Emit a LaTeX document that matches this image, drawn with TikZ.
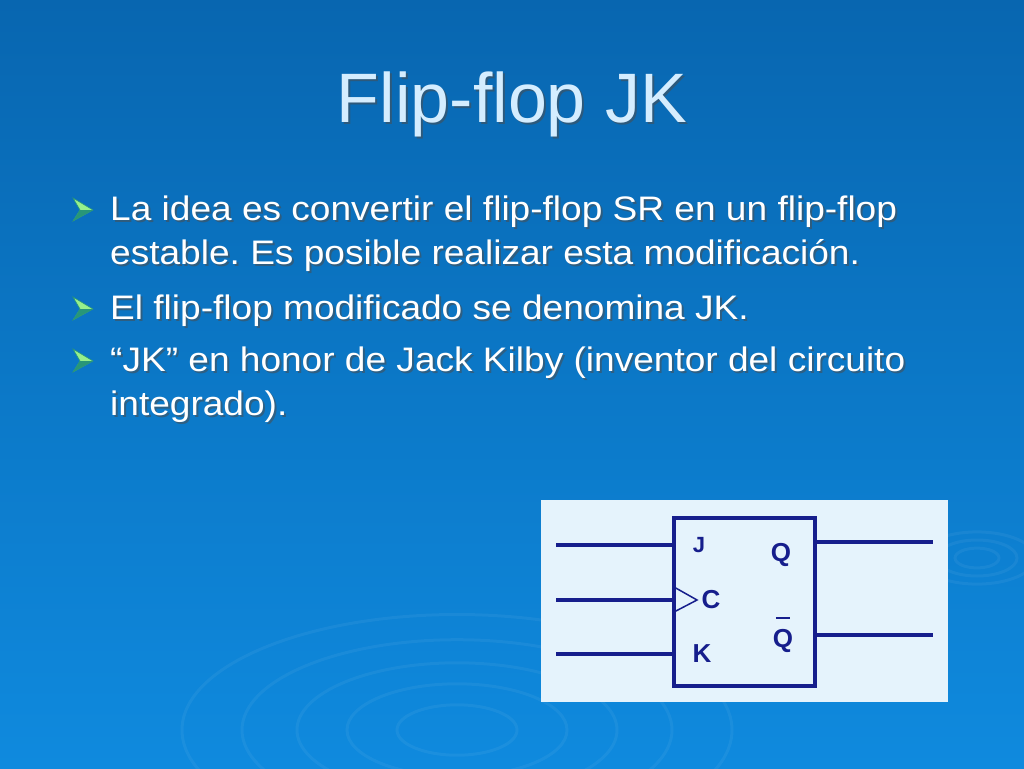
\documentclass[tikz,border=0pt]{standalone}
\usepackage{fontspec}
\setmainfont{Liberation Sans}
\newfontfamily\bodyfont[FakeStretch=1.09]{Liberation Sans}
\usetikzlibrary{positioning,calc}
\frenchspacing

\definecolor{slidetop}{RGB}{8,102,176}
\definecolor{slidebot}{RGB}{15,138,222}
\definecolor{titleblue}{RGB}{212,237,255}
\definecolor{panelblue}{RGB}{229,243,252}
\definecolor{wireblue}{RGB}{22,30,140}
\definecolor{bulletlight}{RGB}{150,240,140}
\definecolor{bulletdark}{RGB}{40,150,120}

% text with a soft drop shadow
\newcommand{\shadowtext}[5]{%
  \node[#4, text=black!70, opacity=0.55] at ($(#2,#3)+(2,2)$) {#5};
  \node[#4] (#1) at (#2,#3) {#5};}

\begin{document}
\begin{tikzpicture}[x=1pt,y=-1pt]
\tikzstyle{title}=[anchor=base, inner sep=0pt, text=titleblue, font=\fontsize{70}{80}\selectfont]
\tikzstyle{body}=[anchor=base west, inner sep=0pt, text=white, font=\bodyfont\fontsize{34}{44}\selectfont]
\tikzstyle{ripple}=[white, opacity=0.05, line width=3pt]
\tikzstyle{wire}=[draw=wireblue, line width=4pt]
\tikzstyle{pin}=[anchor=base, inner sep=0pt, text=wireblue, font=\bfseries\fontsize{26}{30}\selectfont]

\useasboundingbox (0,0) rectangle (1024,768);
\shade[top color=slidetop, bottom color=slidebot] (0,0) rectangle (1024,768);

% ripples
\foreach \r in {60,110,160,215,275}
  \draw[ripple] (457,730) ellipse [x radius=\r, y radius=0.42*\r];
\foreach \r in {22,40,58}
  \draw[ripple] (977,558) ellipse [x radius=\r, y radius=0.45*\r];

% title
\shadowtext{title}{512}{122}{title}{Flip-flop JK}

% bullets
\foreach \by in {210,309,361} {
  \fill[bulletlight, draw=bulletdark, line width=0.6pt]
    (73,\by-12) -- (93,\by) -- (73,\by+11) -- (80,\by) -- cycle;
  \fill[bulletdark] (80,\by) -- (93,\by) -- (73,\by+11) -- cycle;
}

\shadowtext{l1}{110}{220}{body}{La idea es convertir el flip-flop SR en un flip-flop}
\shadowtext{l2}{110}{264}{body}{estable. Es posible realizar esta modificación.}
\shadowtext{l3}{110}{319}{body}{El flip-flop modificado se denomina JK.}
\shadowtext{l4}{110}{371}{body}{“JK” en honor de Jack Kilby (inventor del circuito}
\shadowtext{l5}{110}{415}{body}{integrado).}

% flip-flop symbol
\node[fill=panelblue, minimum width=407pt, minimum height=202pt, inner sep=0pt] (panel) at (744.5,601) {};
\node[wire, minimum width=141pt, minimum height=168pt, inner sep=0pt] (ff) at (744.5,602) {};

\coordinate (jin) at (556,545);
\coordinate (cin) at (556,600);
\coordinate (kin) at (556,654);
\coordinate (qout) at (933,542);
\coordinate (nqout) at (933,635);

\draw[wire] (jin) -- (jin -| ff.west);
\draw[wire] (cin) -- (cin -| ff.west);
\draw[wire, line width=3.5pt] (kin) -- (kin -| ff.west);
\draw[wire, line width=3.5pt] (ff.east |- qout) -- (qout);
\draw[wire, line width=3.5pt] (ff.east |- nqout) -- (nqout);
\draw[wireblue, line width=1.5pt] (674,587) -- (697,600) -- (674,612);

\node[pin, font=\bfseries\fontsize{22}{26}\selectfont] (pj) at (699,552) {J};
\node[pin] (pc) at (711,608) {C};
\node[pin] (pk) at (702,662) {K};
\node[pin] (pq) at (781,561) {Q};
\node[pin] (pnq) at (783,647) {\makebox[0pt][l]{\hspace{3pt}\rule[28pt]{14pt}{2pt}}Q};
\end{tikzpicture}
\end{document}
